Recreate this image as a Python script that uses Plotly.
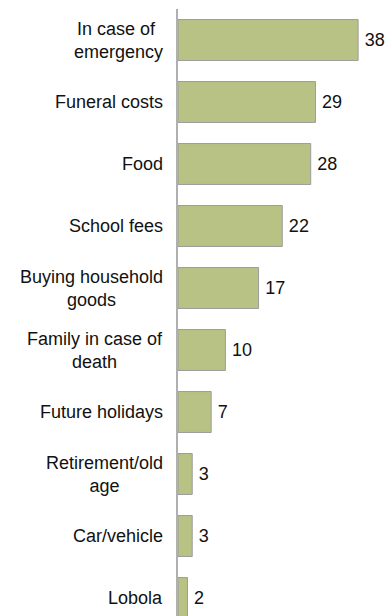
import plotly.graph_objects as go

# Reasons for saving, share of respondents
categories = [
    "In case of <br>emergency",
    "Funeral costs",
    "Food",
    "School fees",
    "Buying household<br>goods",
    "Family in case of<br>death",
    "Future holidays",
    "Retirement/old<br>age",
    "Car/vehicle",
    "Lobola",
]
values = [38, 29, 28, 22, 17, 10, 7, 3, 3, 2]

FONT = "Liberation Sans, Arial, sans-serif"
BAR_FILL = "#b8c284"
BAR_EDGE = "#9c9c9c"
AXIS_GREY = "#b0b0b0"

fig = go.Figure(
    go.Bar(
        x=values,
        y=categories,
        orientation="h",
        width=0.66,
        marker=dict(color=BAR_FILL, line=dict(color=BAR_EDGE, width=1)),
        text=values,
        texttemplate="\u2009%{text}",
        textposition="outside",
        constraintext="none",
        cliponaxis=False,
        textfont=dict(family=FONT, size=18, color="#111111"),
        hoverinfo="skip",
    )
)

# Category labels, centred line by line, placed left of the axis
for cat in categories:
    fig.add_annotation(
        x=0,
        xref="paper",
        y=cat,
        yref="y",
        text=cat,
        showarrow=False,
        xanchor="right",
        yanchor="middle",
        align="center",
        xshift=-13,
        font=dict(family=FONT, size=18, color="#111111"),
    )

fig.update_layout(
    width=390,
    height=616,
    margin=dict(l=178, r=0, t=9, b=0),
    paper_bgcolor="white",
    plot_bgcolor="white",
    showlegend=False,
    xaxis=dict(
        range=[0, 44.73],
        showgrid=False,
        zeroline=False,
        showline=False,
        showticklabels=False,
        ticks="",
        fixedrange=True,
    ),
    yaxis=dict(
        type="category",
        categoryorder="array",
        categoryarray=categories,
        range=[9.29, -0.5],
        showgrid=False,
        zeroline=False,
        showline=True,
        linecolor=AXIS_GREY,
        linewidth=1.5,
        showticklabels=False,
        ticks="",
        fixedrange=True,
    ),
)

fig.write_html("out.html")
